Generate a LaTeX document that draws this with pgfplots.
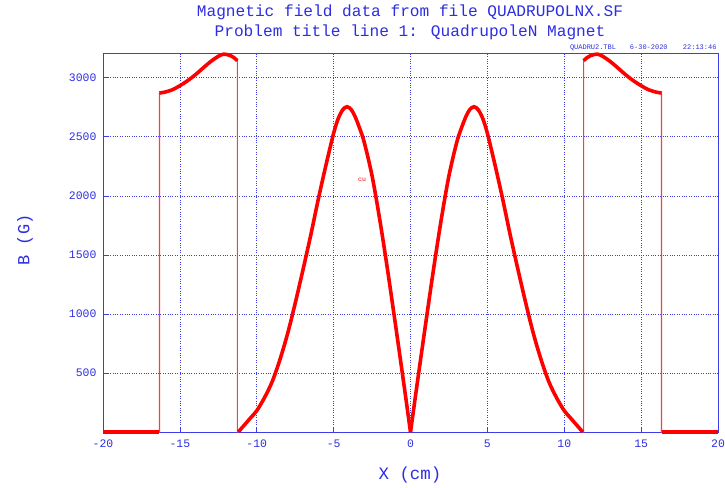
\documentclass[border=0pt]{standalone}
\usepackage{pgfplots}
\pgfplotsset{compat=1.18}
\usepackage{fontspec}
\setmainfont{Liberation Mono}
\definecolor{tblue}{RGB}{45,45,225}
\definecolor{gblue}{RGB}{60,60,235}
\definecolor{lred}{RGB}{255,60,60}
\begin{document}
\begin{tikzpicture}
\useasboundingbox (-103bp,-56bp) rectangle (622bp,432bp);
\begin{axis}[
  at={(0,0)}, anchor=south west,
  scale only axis, width=615bp, height=379bp,
  xmin=-20, xmax=20, ymin=0, ymax=3210,
  xtick={-20,-15,...,20},
  ytick={500,1000,...,3000},
  grid=major,
  major grid style={gblue, dotted, line width=0.7pt},
  axis line style={gblue, line width=0.8pt},
  tick style={gblue, line width=0.7pt},
  tick align=inside,
  major tick length=5pt,
  xtick pos=bottom, ytick pos=left,
  ticklabel style={font=\fontsize{11.5}{12}\selectfont, text=tblue},
  /pgf/number format/assume math mode=true,
  /pgf/number format/1000 sep={},
  xticklabel style={yshift=-4bp},
  yticklabel style={xshift=-3bp},
  clip=false,
]
% thin connecting lines at the vertical jumps
\addplot[color=lred, line width=1.2pt, no markers] coordinates {
(-17,0) (-16.33,0) (-16.33,1500) (-16.33,2871) (-16.2,2874)};
\addplot[color=lred, line width=1.2pt, no markers] coordinates {
(-11.4,3160) (-11.26,3145) (-11.26,1500) (-11.26,0) (-11.2,0)};
\addplot[color=lred, line width=1.2pt, no markers] coordinates {
(17,0) (16.33,0) (16.33,1500) (16.33,2871) (16.2,2874)};
\addplot[color=lred, line width=1.2pt, no markers] coordinates {
(11.4,3160) (11.26,3145) (11.26,1500) (11.26,0) (11.2,0)};
% zero segments
\addplot[color=red, line width=3.6pt, no markers] coordinates {(-20,0) (-16.33,0)};
\addplot[color=red, line width=3.6pt, no markers] coordinates {(16.33,0) (20,0)};
% outer lobes
\addplot[color=red, line width=3.6pt, smooth, no markers] coordinates {
(-16.33,2871) (-16.0,2878) (-15.5,2898) (-15.0,2933) (-14.5,2975) (-14.0,3025)
(-13.5,3082) (-13.0,3137) (-12.5,3182) (-12.16,3200) (-11.8,3192) (-11.5,3172) (-11.26,3145)};
\addplot[color=red, line width=3.6pt, smooth, no markers] coordinates {
(16.33,2871) (16.0,2878) (15.5,2898) (15.0,2933) (14.5,2975) (14.0,3025)
(13.5,3082) (13.0,3137) (12.5,3182) (12.16,3200) (11.8,3192) (11.5,3172) (11.26,3145)};
% inner lobes
\addplot[color=red, line width=3.6pt, smooth, no markers] coordinates {
(-11.2,0) (-10.8,60) (-10.4,120) (-10.0,180) (-9.5,290) (-9.0,425) (-8.5,610)
(-8.0,830) (-7.5,1090) (-7.0,1370) (-6.5,1660) (-6.0,1970) (-5.5,2260)
(-5.0,2530) (-4.7,2655) (-4.4,2730) (-4.13,2755) (-3.85,2730) (-3.6,2670)
(-3.3,2570) (-3.0,2450) (-2.5,2170) (-2.0,1800) (-1.5,1380) (-1.0,930)
(-0.5,470) (0,0)};
\addplot[color=red, line width=3.6pt, smooth, no markers] coordinates {
(0,0) (0.5,470) (1.0,930) (1.5,1380) (2.0,1800) (2.5,2170) (3.0,2450)
(3.3,2570) (3.6,2670) (3.85,2730) (4.13,2755) (4.4,2730) (4.7,2655) (5.0,2530)
(5.5,2260) (6.0,1970) (6.5,1660) (7.0,1370) (7.5,1090) (8.0,830) (8.5,610)
(9.0,425) (9.5,290) (10.0,180) (10.4,120) (10.8,60) (11.2,0)};
\node[text=red, font=\fontsize{6.5}{6.5}\selectfont] at (axis cs:-3.15,2140) {cu};
\end{axis}
\node[text=tblue, font=\fontsize{16.2}{17}\selectfont] at (307bp,420bp) {Magnetic field data from file QUADRUPOLNX.SF};
\node[text=tblue, font=\fontsize{16.2}{17}\selectfont] at (307bp,400bp) {Problem title line 1: QuadrupoleN Magnet};
\node[text=tblue, font=\fontsize{7}{7}\selectfont, anchor=base east] at (617bp,382bp) {QUADRU2.TBL\quad\quad 6-30-2020\quad\ \ 22:13:46};
\node[text=tblue, font=\fontsize{17}{17}\selectfont, rotate=90] at (-78bp,192bp) {B (G)};
\node[text=tblue, font=\fontsize{17.5}{17.5}\selectfont] at (307bp,-43bp) {X (cm)};
\end{tikzpicture}
\end{document}
